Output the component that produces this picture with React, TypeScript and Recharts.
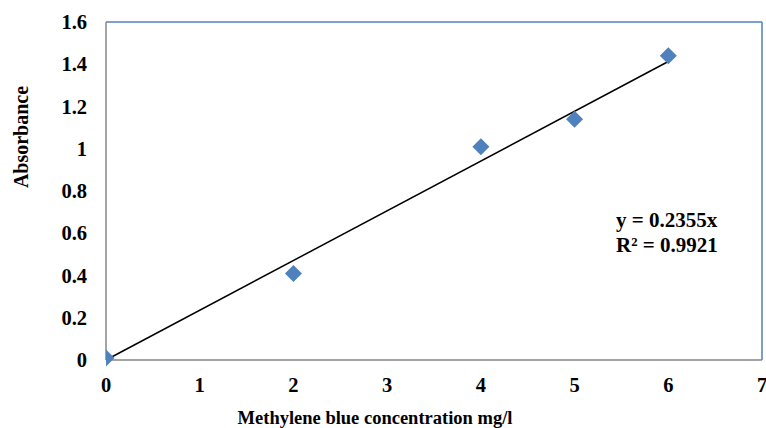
import React from "react";
import {
  ComposedChart,
  Scatter,
  XAxis,
  YAxis,
  ReferenceLine,
} from "recharts";

// measured concentration (mg/l) vs absorbance
const concentration = [0, 2, 4, 5, 6];
const absorbance = [0.01, 0.41, 1.01, 1.14, 1.44];

const xTicks = [0, 1, 2, 3, 4, 5, 6, 7];
const yTicks = [0, 0.2, 0.4, 0.6, 0.8, 1, 1.2, 1.4, 1.6];

// linear fit through origin (Excel trendline)
const slope = 0.2355;
const trendRange = [0, 6];
const equationLines = ["y = 0.2355x", "R\u00b2 = 0.9921"];

const points = concentration.map((c, i) => ({ x: c, y: absorbance[i] }));

const FONT = "Liberation Serif";
const BLUE = "#4F81BD";
const AXIS_GREY = "#868686";
const textStyle = { fontFamily: FONT, fontWeight: 700 };

// square marker turned 45 degrees, like Excel's diamond
const Diamond = (props: any) => {
  const { cx, cy } = props;
  const r = 8.5;
  return (
    <polygon
      points={`${cx},${cy - r} ${cx + r},${cy} ${cx},${cy + r} ${cx - r},${cy}`}
      fill={BLUE}
    />
  );
};

const XTick = (props: any) => {
  const { x, y, payload } = props;
  return (
    <text x={x} y={y + 14.5} textAnchor="middle" fontSize={20.5} fill="#000" style={textStyle}>
      {payload.value}
    </text>
  );
};

const YTick = (props: any) => {
  const { x, y, payload } = props;
  return (
    <text x={x} y={y + 7} textAnchor="end" fontSize={20.5} fill="#000" style={textStyle}>
      {payload.value}
    </text>
  );
};

export default function App() {
  return (
    <div style={{ position: "absolute", left: 0, top: 0, background: "#fff" }}>
      <ComposedChart
        width={766}
        height={428}
        data={points}
        margin={{ top: 22, right: 4, left: 0, bottom: 0 }}
      >
        <XAxis
          type="number"
          dataKey="x"
          domain={[0, 7]}
          ticks={xTicks}
          allowDataOverflow
          height={68}
          tick={<XTick />}
          tickLine={false}
          tickMargin={11}
          axisLine={{ stroke: AXIS_GREY, strokeWidth: 1.5 }}
        />
        <YAxis
          type="number"
          dataKey="y"
          domain={[0, 1.6]}
          ticks={yTicks}
          width={106}
          tick={<YTick />}
          tickLine={false}
          tickMargin={13}
          axisLine={{ stroke: AXIS_GREY, strokeWidth: 1.5 }}
        />
        {/* top and right frame of plot area */}
        <ReferenceLine y={1.6} stroke={BLUE} strokeWidth={1.5} />
        <ReferenceLine x={7} stroke={BLUE} strokeWidth={1.5} />
        <ReferenceLine
          segment={[
            { x: trendRange[0], y: slope * trendRange[0] },
            { x: trendRange[1], y: slope * trendRange[1] },
          ]}
          stroke="#000"
          strokeWidth={1.5}
        />
        <Scatter
          data={points}
          dataKey="y"
          shape={Diamond}
          fill={BLUE}
          isAnimationActive={false}
          legendType="none"
        />
        <text x={616} y={227} fontSize={21} fill="#000" style={textStyle}>
          {equationLines[0]}
        </text>
        <text x={616} y={252} fontSize={21} fill="#000" style={textStyle}>
          {equationLines[1]}
        </text>
        <text
          x={28}
          y={137}
          transform="rotate(-90, 28, 137)"
          textAnchor="middle"
          fontSize={20}
          fill="#000"
          style={textStyle}
        >
          Absorbance
        </text>
        <text
          x={375}
          y={424}
          textAnchor="middle"
          fontSize={18.5}
          fill="#000"
          style={textStyle}
        >
          Methylene blue concentration  mg/l
        </text>
      </ComposedChart>
    </div>
  );
}
